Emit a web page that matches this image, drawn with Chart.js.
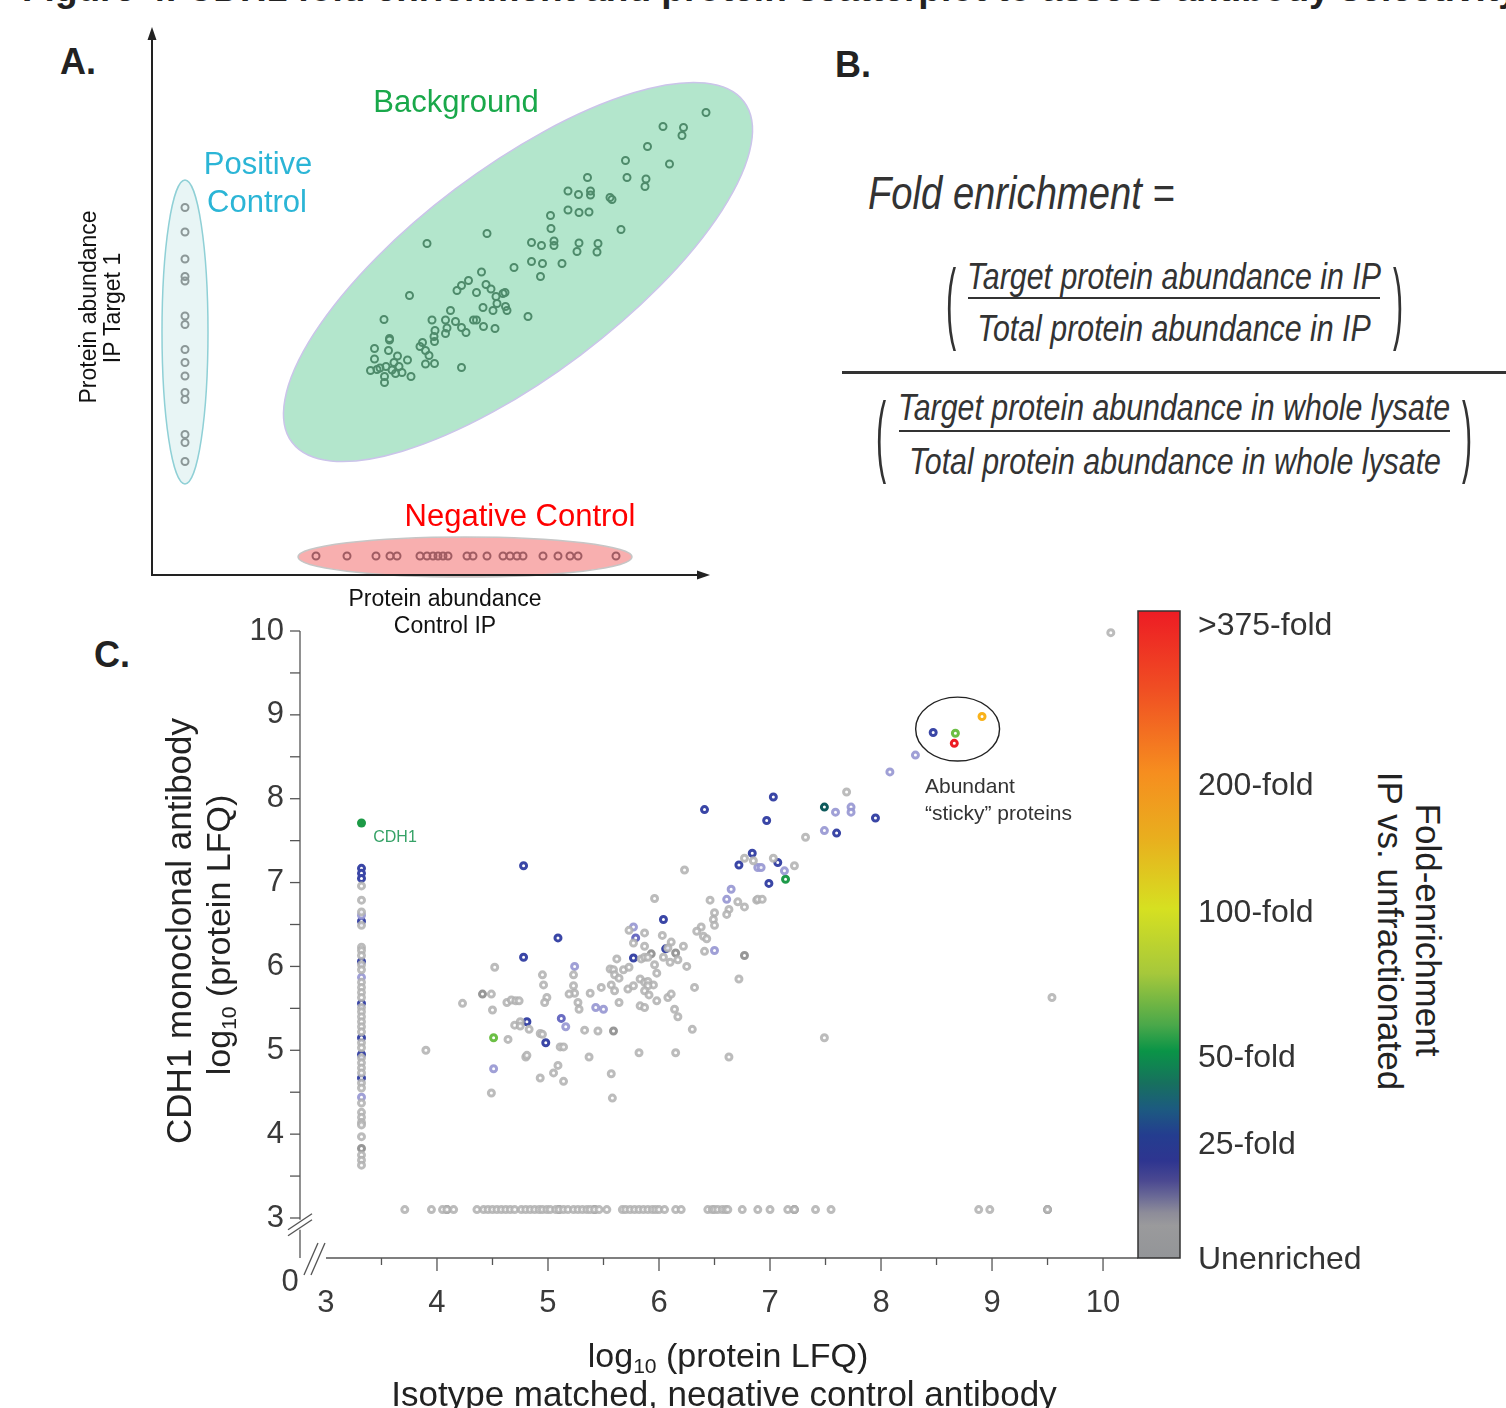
<!DOCTYPE html>
<html>
<head>
<meta charset="utf-8">
<script src="https://cdn.jsdelivr.net/npm/chart.js@4.4.1/dist/chart.umd.min.js"></script>
<style>
body{margin:0;width:1506px;height:1408px;overflow:hidden;background:#fff;font-family:"Liberation Sans",Arial,sans-serif;color:#222;position:relative}
.t{position:absolute;white-space:nowrap;line-height:1;transform:translate(-50%,-50%)}
.l{position:absolute;white-space:nowrap;line-height:1;transform:translate(0,-50%)}
.r90{transform:translate(-50%,-50%) rotate(90deg)}
.rm90{transform:translate(-50%,-50%) rotate(-90deg)}
.fx{font-style:italic;color:#333;transform:translate(-50%,-50%) scale(0.82,1)}
.fxl{font-style:italic;color:#333;transform-origin:0 50%;transform:translate(0,-50%) scale(0.83,1)}
.rule{position:absolute;background:#333}
.par{position:absolute;color:#333;font-size:38px;line-height:1;transform:translate(-50%,-50%) scale(0.8,2.35)}
canvas{position:absolute}
sub{font-size:62%;vertical-align:-0.28em;line-height:0}
</style>
</head>
<body>
<div style="position:absolute;left:22px;top:-29px;font-weight:bold;font-size:37px;line-height:36px;white-space:nowrap">Figure 4. CDH1 fold enrichment and protein scatterplot to assess antibody selectivity</div>

<canvas id="chartA" width="680" height="600" style="left:100px;top:10px"></canvas>
<canvas id="chartC" width="1060" height="790" style="left:150px;top:590px"></canvas>

<!-- panel letters -->
<div class="t" style="left:78px;top:62px;font-weight:bold;font-size:36px">A.</div>
<div class="t" style="left:853px;top:65px;font-weight:bold;font-size:36px">B.</div>
<div class="t" style="left:112px;top:655px;font-weight:bold;font-size:36px">C.</div>

<!-- panel A labels -->
<div class="t" style="left:456px;top:101px;font-size:31px;color:#19a84a">Background</div>
<div class="t" style="left:258px;top:163px;font-size:31px;color:#2bb5d6">Positive</div>
<div class="t" style="left:257px;top:201px;font-size:31px;color:#2bb5d6">Control</div>
<div class="t" style="left:520px;top:515px;font-size:31px;color:#ff0000">Negative Control</div>
<div class="t" style="left:445px;top:598px;font-size:23px;color:#111">Protein abundance</div>
<div class="t" style="left:445px;top:625px;font-size:23px;color:#111">Control IP</div>
<div class="t rm90" style="left:88px;top:307px;font-size:23px;color:#111">Protein abundance</div>
<div class="t rm90" style="left:112px;top:308px;font-size:23px;color:#111">IP Target 1</div>

<!-- panel B formula -->
<div class="l fxl" style="left:868px;top:193px;font-size:46px">Fold enrichment =</div>
<div class="par" style="left:951px;top:301px">(</div>
<div class="par" style="left:1398px;top:301px">)</div>
<div class="t fx" style="left:1174px;top:276px;font-size:37px">Target protein abundance in IP</div>
<div class="rule" style="left:968px;top:297px;width:412px;height:2px"></div>
<div class="t fx" style="left:1174px;top:328px;font-size:37px">Total protein abundance in IP</div>
<div class="rule" style="left:842px;top:371px;width:664px;height:3px"></div>
<div class="par" style="left:881px;top:434px">(</div>
<div class="par" style="left:1467px;top:434px">)</div>
<div class="t fx" style="left:1174px;top:407px;font-size:37px">Target protein abundance in whole lysate</div>
<div class="rule" style="left:899px;top:430px;width:551px;height:2px"></div>
<div class="t fx" style="left:1175px;top:461px;font-size:37px">Total protein abundance in whole lysate</div>

<!-- panel C labels -->
<div class="t rm90" style="left:178px;top:931px;font-size:35px;color:#222">CDH1 monoclonal antibody</div>
<div class="t rm90" style="left:218px;top:935px;font-size:34px;color:#222">log<sub>10</sub> (protein LFQ)</div>
<div class="t" style="left:728px;top:1355px;font-size:34px;color:#222">log<sub>10</sub> (protein LFQ)</div>
<div class="t" style="left:724px;top:1393px;font-size:35px;color:#222">Isotype matched, negative control antibody</div>
<div class="t" style="left:290px;top:1280px;font-size:31px;color:#3a3a3a">0</div>
<div class="t" style="left:395px;top:837px;font-size:16px;color:#36a267">CDH1</div>
<div class="l" style="left:925px;top:785px;font-size:21px;color:#333">Abundant</div>
<div class="l" style="left:925px;top:812px;font-size:21px;color:#333">“sticky” proteins</div>
<div class="l" style="left:1198px;top:624px;font-size:32px;color:#333">&gt;375-fold</div>
<div class="l" style="left:1198px;top:784px;font-size:32px;color:#333">200-fold</div>
<div class="l" style="left:1198px;top:911px;font-size:32px;color:#333">100-fold</div>
<div class="l" style="left:1198px;top:1056px;font-size:32px;color:#333">50-fold</div>
<div class="l" style="left:1198px;top:1143px;font-size:32px;color:#333">25-fold</div>
<div class="l" style="left:1198px;top:1258px;font-size:32px;color:#333">Unenriched</div>
<div class="t r90" style="left:1428px;top:930px;font-size:35px;color:#222">Fold-enrichment</div>
<div class="t r90" style="left:1390px;top:931px;font-size:35px;color:#222">IP vs. unfractionated</div>

<script>
// ---------- panel A (schematic, arbitrary units) ----------
var posCtrlA = [[6.6,73.5],[6.6,68.6],[6.6,63.2],[6.6,59.7],[6.6,58.8],[6.6,51.8],[6.6,50.1],[6.6,45.1],
  [6.6,42.5],[6.6,39.8],[6.6,36.5],[6.6,35.1],[6.6,28.1],[6.6,26.5],[6.6,22.7]];
var backgroundA = [[110.8,92.5],[102.2,89.7],[106.3,89.5],[106.0,87.9],[99.1,85.7],[94.7,82.9],[103.5,82.2],
  [87.1,79.5],[95.0,79.5],[98.8,79.2],[98.6,77.7],[83.2,76.8],[85.3,76.1],[87.7,76.8],[87.7,76.0],[91.6,75.5],
  [92.0,75.1],[83.2,73.0],[85.4,72.5],[87.4,72.6],[79.7,71.9],[79.8,69.3],[93.8,69.1],[67.0,68.3],[55.0,66.3],
  [75.9,66.5],[77.9,65.9],[80.4,66.8],[80.4,65.9],[85.4,66.4],[85.0,64.7],[89.2,66.3],[89.0,64.6],[75.9,62.7],
  [78.1,62.3],[82.0,62.3],[72.4,61.5],[77.7,59.7],[65.9,60.6],[51.5,55.9],[63.3,58.9],[61.9,57.9],[66.8,58.1],
  [67.8,57.2],[70.6,56.5],[70.2,56.3],[61.0,56.9],[64.9,56.5],[68.8,55.7],[69.0,54.3],[66.2,53.5],[70.7,53.7],
  [71.0,52.9],[68.2,52.9],[59.7,52.9],[56.0,51.0],[58.7,51.0],[60.7,50.7],[64.3,51.0],[64.9,51.0],[75.2,51.7],
  [46.4,51.1],[66.3,49.7],[68.6,49.3],[59.0,49.4],[61.9,49.5],[62.8,48.5],[56.6,48.9],[58.7,48.3],[56.4,47.7],
  [56.5,46.7],[54.1,46.5],[53.6,45.7],[54.7,44.9],[55.4,43.9],[47.5,47.3],[47.5,47.0],[44.5,45.3],[47.3,44.9],
  [49.1,43.8],[51.1,43.0],[48.4,42.5],[44.5,43.2],[46.8,41.7],[49.4,41.7],[54.7,42.2],[56.5,42.3],[61.9,41.5],
  [43.7,40.9],[45.0,41.1],[45.6,41.4],[48.0,41.0],[50.0,40.5],[51.8,39.7],[46.5,39.7],[46.5,38.5],[48.7,40.3]];
var negCtrlA = [[32.8,3.8],[39.0,3.8],[44.8,3.8],[47.6,3.8],[49.0,3.8],[53.6,3.8],[55.0,3.8],[56.2,3.8],
  [57.2,3.8],[58.2,3.8],[59.2,3.8],[63.0,3.8],[64.2,3.8],[67.0,3.8],[70.2,3.8],[71.6,3.8],[73.0,3.8],
  [74.2,3.8],[78.2,3.8],[81.2,3.8],[83.6,3.8],[85.2,3.8],[92.8,3.8]];

// ---------- panel C: x = log10 LFQ isotype control, y = log10 LFQ CDH1 IP ----------
var xTickLabels = [3, 4, 5, 6, 7, 8, 9, 10];
var yTickLabels = [3, 4, 5, 6, 7, 8, 9, 10];
var foldLabels = ['>375-fold', '200-fold', '100-fold', '50-fold', '25-fold', 'Unenriched'];

var unenriched = [[6.23,7.15],[6.77,7.29],[6.85,7.26],[5.96,6.81],[6.46,6.79],[6.71,6.77],[6.77,6.71],[6.88,6.79],
  [6.50,6.64],[6.63,6.68],[6.61,6.62],[6.49,6.56],[6.50,6.49],[5.73,6.43],[5.87,6.40],[5.77,6.28],[6.03,6.37],
  [6.38,6.47],[6.34,6.42],[6.40,6.36],[6.43,6.33],[6.11,6.29],[6.22,6.24],[5.87,6.24],[6.08,6.22],[6.41,6.18],
  [5.84,6.09],[5.87,6.11],[5.90,6.11],[6.04,6.11],[6.10,6.05],[6.17,6.08],[5.62,6.09],[5.96,6.02],[5.98,5.92],
  [6.25,6.00],[5.56,5.97],[5.59,5.96],[5.68,5.96],[5.73,5.99],[5.60,5.90],[5.64,5.86],[5.23,5.90],[4.95,5.90],
  [4.96,5.78],[4.52,5.99],[5.23,5.77],[5.24,5.68],[5.19,5.67],[5.27,5.57],[5.28,5.49],[4.99,5.63],[4.97,5.57],
  [5.38,5.68],[5.48,5.75],[5.57,5.78],[5.60,5.71],[5.64,5.57],[5.72,5.73],[5.77,5.77],[5.83,5.85],[5.87,5.81],
  [5.90,5.82],[5.95,5.78],[5.90,5.77],[5.87,5.71],[5.91,5.66],[5.98,5.59],[5.83,5.53],[5.87,5.51],[6.08,5.63],
  [6.11,5.67],[6.14,5.49],[6.17,5.40],[6.32,5.75],[6.72,5.85],[4.49,5.67],[4.23,5.56],[4.63,5.57],[4.67,5.60],
  [4.71,5.59],[4.74,5.59],[4.50,5.48],[4.70,5.30],[4.75,5.34],[4.75,5.29],[4.83,5.25],[4.93,5.20],[4.95,5.19],
  [5.33,5.24],[5.45,5.23],[6.30,5.25],[4.64,5.13],[5.11,5.04],[5.14,5.04],[4.80,4.92],[4.81,4.94],[5.37,4.92],
  [5.82,4.97],[6.15,4.97],[6.63,4.92],[5.09,4.82],[5.05,4.73],[4.93,4.67],[5.14,4.63],[5.57,4.72],[4.49,4.49],
  [5.58,4.43],[3.90,5.00],[7.49,5.15],[9.54,5.63],[7.32,7.54],[7.22,7.20],[7.03,7.29],[6.89,6.80],[6.93,6.80],
  [7.69,8.08],[10.07,9.98],
  // only detected in the CDH1 IP
  [3.32,6.96],[3.32,6.79],[3.32,6.65],[3.32,6.49],[3.32,6.23],[3.32,6.19],[3.32,6.13],[3.32,6.02],[3.32,5.96],
  [3.32,5.81],[3.32,5.75],[3.32,5.69],[3.32,5.63],[3.32,5.51],[3.32,5.46],[3.32,5.40],[3.32,5.34],[3.32,5.28],
  [3.32,5.22],[3.32,5.09],[3.32,5.03],[3.32,4.91],[3.32,4.85],[3.32,4.79],[3.32,4.73],[3.32,4.61],[3.32,4.55],
  [3.32,4.37],[3.32,4.26],[3.32,4.20],[3.32,4.14],[3.32,4.11],[3.32,3.97],[3.32,3.75],[3.32,3.69],[3.32,3.63],
  // only detected in the isotype control
  [3.71,3.1],[3.95,3.1],[4.05,3.1],[4.09,3.1],[4.15,3.1],[4.36,3.1],[4.42,3.1],[4.46,3.1],[4.50,3.1],[4.54,3.1],
  [4.58,3.1],[4.62,3.1],[4.66,3.1],[4.70,3.1],[4.76,3.1],[4.80,3.1],[4.84,3.1],[4.88,3.1],[4.92,3.1],[4.95,3.1],
  [4.99,3.1],[5.02,3.1],[5.07,3.1],[5.10,3.1],[5.14,3.1],[5.18,3.1],[5.23,3.1],[5.27,3.1],[5.31,3.1],[5.35,3.1],
  [5.38,3.1],[5.42,3.1],[5.46,3.1],[5.53,3.1],[5.67,3.1],[5.70,3.1],[5.74,3.1],[5.78,3.1],[5.82,3.1],[5.86,3.1],
  [5.90,3.1],[5.94,3.1],[5.97,3.1],[6.00,3.1],[6.05,3.1],[6.15,3.1],[6.20,3.1],[6.44,3.1],[6.48,3.1],[6.50,3.1],
  [6.53,3.1],[6.57,3.1],[6.60,3.1],[6.62,3.1],[6.75,3.1],[6.89,3.1],[7.00,3.1],[7.16,3.1],[7.22,3.1],[7.41,3.1],
  [7.55,3.1],[8.88,3.1],[8.98,3.1],[9.50,3.1]];
var unenrichedDark = [[4.41,5.67],[5.59,5.23],[6.77,6.13],[6.15,6.16],[5.93,6.15],[3.32,3.83],
  [4.09,3.1],[5.10,3.1],[5.42,3.1],[7.22,3.1],[9.50,3.1]];
var fold15 = [[6.89,7.18],[6.65,6.92],[6.61,6.80],[5.77,6.47],[6.50,6.19],[5.24,6.00],[5.43,5.51],[5.50,5.49],
  [5.16,5.28],[4.51,4.78],[6.92,7.18],[7.13,7.14],[7.59,7.84],[7.49,7.62],[7.73,7.90],[7.73,7.84],[8.31,8.52],
  [8.08,8.32],[3.32,6.61],[3.32,5.87],[3.32,4.44]];
var fold20 = [[5.79,6.34],[5.12,5.38]];
var fold25 = [[4.78,7.20],[6.84,7.35],[6.72,7.21],[6.04,6.56],[6.06,6.21],[5.77,6.10],[4.81,5.34],[4.98,5.09],
  [6.41,7.87],[7.03,8.02],[6.97,7.74],[7.07,7.24],[6.99,6.99],[7.60,7.59],[7.95,7.77],[8.47,8.79],[4.78,6.11],
  [5.09,6.34],[3.32,7.17],[3.32,7.11],[3.32,7.05],[3.32,6.54],[3.32,6.06],[3.32,5.56],[3.32,5.15],[3.32,4.95],
  [3.32,4.67]];
var fold40 = [[7.49,7.90]];
var fold50 = [[7.14,7.04]];
var fold75 = [[4.51,5.15],[8.67,8.78]];
var fold200 = [[8.91,8.98]];
var fold375 = [[8.66,8.66]];
var cdh1 = [[3.32,7.71]];

function pts(arr) { return arr.map(function (p) { return {x: p[0], y: p[1]}; }); }

function ring(arr, color, r, bw, fill) {
  return {
    data: pts(arr),
    pointRadius: r, pointHoverRadius: r, borderWidth: bw,
    borderColor: color, backgroundColor: fill, clip: false
  };
}

// ---------- panel A chart ----------
var shapesA = {
  id: 'shapesA',
  beforeDatasetsDraw: function (chart) {
    var ctx = chart.ctx, x = chart.scales.x, y = chart.scales.y;
    var u = x.getPixelForValue(1) - x.getPixelForValue(0);
    var ells = [
      {cx: 6.6, cy: 48.6, rx: 4.6, ry: 30.4, rot: 0, fill: '#e8f5f5', stroke: '#8fd0d6'},
      {cx: 73.2, cy: 60.6, rx: 56.6, ry: 20.8, rot: -37, fill: '#b3e6cc', stroke: '#cbc4ea'},
      {cx: 62.6, cy: 3.6, rx: 33.4, ry: 4.0, rot: 0, fill: '#f8afaf', stroke: '#c6c6c6'}
    ];
    ctx.save();
    ells.forEach(function (e) {
      ctx.beginPath();
      ctx.ellipse(x.getPixelForValue(e.cx), y.getPixelForValue(e.cy), e.rx * u, e.ry * u, e.rot * Math.PI / 180, 0, Math.PI * 2);
      ctx.fillStyle = e.fill; ctx.fill();
      ctx.lineWidth = 1.5; ctx.strokeStyle = e.stroke; ctx.stroke();
    });
    ctx.restore();
  },
  afterDraw: function (chart) {
    var ctx = chart.ctx, a = chart.chartArea;
    ctx.save();
    ctx.strokeStyle = '#222'; ctx.fillStyle = '#222'; ctx.lineWidth = 2;
    ctx.beginPath();
    ctx.moveTo(a.left, a.top + 12); ctx.lineTo(a.left, a.bottom); ctx.lineTo(a.right - 12, a.bottom);
    ctx.stroke();
    ctx.beginPath();
    ctx.moveTo(a.left, a.top + 2); ctx.lineTo(a.left - 4.5, a.top + 15); ctx.lineTo(a.left + 4.5, a.top + 15); ctx.closePath();
    ctx.fill();
    ctx.beginPath();
    ctx.moveTo(a.right - 2, a.bottom); ctx.lineTo(a.right - 15, a.bottom - 4.5); ctx.lineTo(a.right - 15, a.bottom + 4.5); ctx.closePath();
    ctx.fill();
    ctx.restore();
  }
};

new Chart(document.getElementById('chartA').getContext('2d'), {
  type: 'scatter',
  data: {
    datasets: [
      ring(posCtrlA, '#8c9898', 3.5, 2, 'rgba(0,0,0,0)'),
      ring(backgroundA, '#4e8b6b', 3.5, 2, 'rgba(0,0,0,0)'),
      ring(negCtrlA, '#a05c62', 3.5, 2, 'rgba(0,0,0,0)')
    ]
  },
  options: {
    responsive: false,
    animation: false,
    layout: {padding: {left: 52, top: 15, right: 68, bottom: 35}},
    plugins: {legend: {display: false}, tooltip: {enabled: false}},
    scales: {
      x: {type: 'linear', min: 0, max: 112, display: false},
      y: {type: 'linear', min: 0, max: 110, display: false}
    }
  },
  plugins: [shapesA]
});

// ---------- panel C chart ----------
var axesC = {
  id: 'axesC',
  afterDraw: function (chart) {
    var ctx = chart.ctx, a = chart.chartArea, x = chart.scales.x, y = chart.scales.y;
    function line(x1, y1, x2, y2) { ctx.beginPath(); ctx.moveTo(x1, y1); ctx.lineTo(x2, y2); ctx.stroke(); }
    ctx.save();
    ctx.strokeStyle = '#555'; ctx.lineWidth = 1.3;
    // y axis with break
    var brk = y.getPixelForValue(2.92);
    line(a.left, y.getPixelForValue(10), a.left, brk - 5);
    line(a.left, brk + 5, a.left, a.bottom);
    line(a.left - 12, brk + 5, a.left + 12, brk - 11);
    line(a.left - 12, brk + 11, a.left + 12, brk - 5);
    // y ticks
    for (var v = yTickLabels[0]; v <= yTickLabels[yTickLabels.length - 1]; v += 0.5) {
      var py = y.getPixelForValue(v);
      line(a.left - 10, py, a.left, py);
    }
    // x axis with break
    var x0 = x.getPixelForValue(xTickLabels[0]);
    line(x0, a.bottom, a.right, a.bottom);
    line(x0 - 22, a.bottom + 17, x0 - 8, a.bottom - 15);
    line(x0 - 15, a.bottom + 17, x0 - 1, a.bottom - 15);
    for (var w = xTickLabels[0] + 0.5; w <= xTickLabels[xTickLabels.length - 1]; w += 0.5) {
      var px = x.getPixelForValue(w);
      line(px, a.bottom, px, a.bottom + (w % 1 === 0 ? 13 : 7));
    }
    // circle around abundant "sticky" proteins
    var cx = x.getPixelForValue(8.69), cy = y.getPixelForValue(8.83);
    ctx.strokeStyle = '#222'; ctx.lineWidth = 1.4;
    ctx.beginPath();
    ctx.ellipse(cx, cy, x.getPixelForValue(8.69 + 0.378) - cx, cy - y.getPixelForValue(8.83 + 0.381), 0, 0, Math.PI * 2);
    ctx.stroke();
    // colour bar
    var top = a.top - 20, left = a.right, w2 = 42;
    var g = ctx.createLinearGradient(0, top, 0, a.bottom);
    [[0, '#ed1c24'], [0.12, '#f04e23'], [0.25, '#f68e1f'], [0.35, '#e9ae1e'], [0.46, '#d6e021'],
     [0.56, '#a6c83b'], [0.64, '#4aa84a'], [0.68, '#0a9447'], [0.73, '#17705e'], [0.77, '#1c5a80'],
     [0.81, '#243d8f'], [0.85, '#2e3590'], [0.88, '#4a4891'], [0.905, '#6a6996'], [0.93, '#8d8c99'],
     [0.95, '#9a9a9c'], [1, '#939598']].forEach(function (s) { g.addColorStop(s[0], s[1]); });
    ctx.fillStyle = g;
    ctx.fillRect(left, top, w2, a.bottom - top);
    ctx.strokeStyle = '#333'; ctx.lineWidth = 1.5;
    ctx.strokeRect(left, top, w2, a.bottom - top);
    ctx.restore();
  }
};

var tickFont = {family: '"Liberation Sans", Arial, sans-serif', size: 31};
var halfSteps = function (labels) {
  var out = [];
  for (var v = labels[0]; v <= labels[labels.length - 1]; v += 0.5) out.push({value: v});
  return out;
};

new Chart(document.getElementById('chartC').getContext('2d'), {
  type: 'scatter',
  data: {
    datasets: [
      ring(unenriched, 'rgba(176,176,176,0.85)', 3, 3, 'rgba(255,255,255,0.85)'),
      ring(unenrichedDark, 'rgba(140,140,140,0.9)', 3, 3, 'rgba(255,255,255,0.85)'),
      ring(fold15, 'rgba(150,150,210,0.9)', 3, 3, 'rgba(255,255,255,0.85)'),
      ring(fold20, '#6a6cc2', 3, 3, '#fff'),
      ring(fold25, '#3a46a6', 3, 3, '#fff'),
      ring(fold40, '#0e5a5c', 3, 3, '#fff'),
      ring(fold50, '#1e9a4a', 3, 3, '#fff'),
      ring(fold75, '#6cbf45', 3, 3, '#fff'),
      ring(fold200, '#f9b21a', 3, 3, '#fff'),
      ring(fold375, '#ed1c24', 3, 3, '#fff'),
      ring(cdh1, '#1c9a46', 4.5, 0, '#1c9a46')
    ]
  },
  options: {
    responsive: false,
    animation: false,
    layout: {padding: {left: 90, top: 41, right: 72, bottom: 62}},
    plugins: {legend: {display: false}, tooltip: {enabled: false}},
    scales: {
      x: {
        type: 'linear', min: 2.766, max: 10.315,
        grid: {display: false, drawTicks: false}, border: {display: false},
        afterBuildTicks: function (s) { s.ticks = halfSteps(xTickLabels); },
        afterFit: function (s) { s.height = 60; },
        ticks: {
          autoSkip: false, maxRotation: 0, padding: 27, color: '#3a3a3a', font: tickFont,
          callback: function (v) { return xTickLabels.indexOf(v) >= 0 ? String(v) : ''; }
        }
      },
      y: {
        type: 'linear', min: 2.523, max: 10,
        grid: {display: false, drawTicks: false}, border: {display: false},
        afterBuildTicks: function (s) { s.ticks = halfSteps(yTickLabels); },
        afterFit: function (s) { s.width = 60; },
        ticks: {
          autoSkip: false, padding: 16, color: '#3a3a3a', font: tickFont,
          callback: function (v) { return yTickLabels.indexOf(v) >= 0 ? String(v) : ''; }
        }
      }
    }
  },
  plugins: [axesC]
});
</script>
</body>
</html>
